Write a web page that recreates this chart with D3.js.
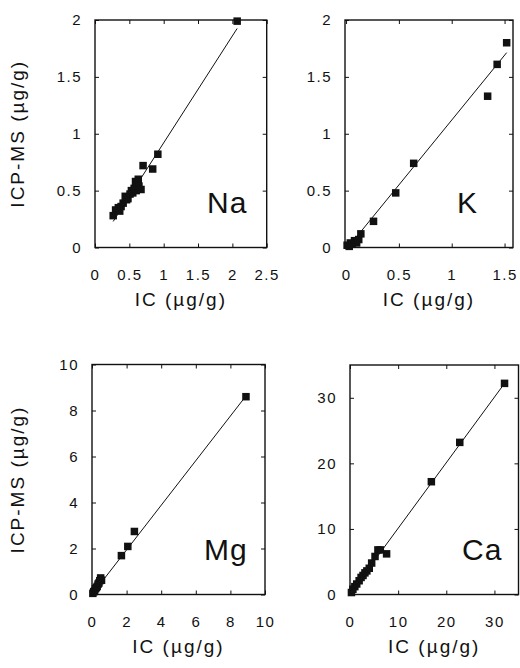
<!DOCTYPE html>
<html>
<head>
<meta charset="utf-8">
<script src="https://cdn.jsdelivr.net/npm/d3@7"></script>
<style>
  body { margin: 0; background: #fff; }
  svg { display: block; }
  .tick text { font-family: "Liberation Sans", Arial, sans-serif; font-size: 15px; letter-spacing: 1.5px; fill: #111; }
  .tick line { stroke: #111; stroke-width: 1; }
  .title { font-family: "Liberation Sans", Arial, sans-serif; font-size: 19px; letter-spacing: 2px; fill: #111; }
  .elem { font-family: "Liberation Sans", Arial, sans-serif; font-size: 30px; letter-spacing: 1px; fill: #111; }
</style>
</head>
<body>
<svg width="520" height="668"></svg>
<script>
// element names
var elements = ["Na", "K", "Mg", "Ca"];

// Na: IC vs ICP-MS (ug/g)
var naIC = [0.265, 0.30, 0.34, 0.36, 0.38, 0.41, 0.44, 0.46, 0.48, 0.51, 0.53, 0.55, 0.57, 0.59, 0.60, 0.62, 0.63, 0.64, 0.67, 0.70, 0.84, 0.915, 2.07];
var naMS = [0.28, 0.33, 0.35, 0.32, 0.36, 0.39, 0.45, 0.42, 0.43, 0.47, 0.50, 0.48, 0.52, 0.58, 0.50, 0.57, 0.60, 0.54, 0.51, 0.72, 0.69, 0.82, 1.99];

// K
var kIC = [0.01, 0.03, 0.04, 0.06, 0.08, 0.10, 0.12, 0.14, 0.26, 0.47, 0.64, 1.34, 1.43, 1.52];
var kMS = [0.02, 0.01, 0.04, 0.03, 0.06, 0.04, 0.07, 0.12, 0.23, 0.48, 0.74, 1.33, 1.61, 1.80];

// Mg
var mgIC = [0.05, 0.10, 0.15, 0.20, 0.25, 0.30, 0.35, 0.40, 0.45, 0.50, 0.55, 1.70, 2.07, 2.45, 8.90];
var mgMS = [0.05, 0.12, 0.15, 0.25, 0.30, 0.35, 0.45, 0.50, 0.60, 0.72, 0.62, 1.69, 2.09, 2.74, 8.60];

// Ca
var caIC = [0.3, 0.6, 1.0, 1.4, 1.9, 2.3, 2.7, 3.1, 3.5, 4.0, 4.5, 5.2, 5.8, 6.3, 7.6, 16.9, 22.8, 32.1];
var caMS = [0.3, 0.8, 1.2, 1.6, 2.1, 2.6, 2.9, 3.3, 3.6, 4.0, 4.8, 5.8, 6.8, 6.8, 6.2, 17.2, 23.2, 32.2];

// regression lines [slope, intercept]
var naFit = [0.94, -0.02];
var kFit = [1.14, -0.02];
var mgFit = [0.97, 0.0];
var caFit = [1.0, 0.1];

// axis domains
var naXDomain = [0, 2.5], naYDomain = [0, 2];
var kXDomain = [-0.01, 1.58], kYDomain = [0, 2];
var mgXDomain = [0, 10], mgYDomain = [0, 10];
var caXDomain = [0, 35], caYDomain = [0, 35];

// tick values
var naXTicks = [0, 0.5, 1, 1.5, 2, 2.5], naYTicks = [0, 0.5, 1, 1.5, 2];
var kXTicks = [0, 0.5, 1, 1.5], kYTicks = [0, 0.5, 1, 1.5, 2];
var mgXTicks = [0, 2, 4, 6, 8, 10], mgYTicks = [0, 2, 4, 6, 8, 10];
var caXTicks = [0, 10, 20, 30], caYTicks = [0, 10, 20, 30];

var xTitle = "IC (\u00b5g/g)";
var yTitle = "ICP-MS (\u00b5g/g)";

// frame boxes: left, top, right, bottom
var boxes = [
    [95, 20, 266.7, 247.5],
    [345, 20, 513, 247.5],
    [92, 364.5, 265, 594.5],
    [350, 365, 518.5, 594.5]
];

var panels = [
    {ic: naIC, ms: naMS, fit: naFit, xd: naXDomain, yd: naYDomain, xt: naXTicks, yt: naYTicks},
    {ic: kIC, ms: kMS, fit: kFit, xd: kXDomain, yd: kYDomain, xt: kXTicks, yt: kYTicks},
    {ic: mgIC, ms: mgMS, fit: mgFit, xd: mgXDomain, yd: mgYDomain, xt: mgXTicks, yt: mgYTicks},
    {ic: caIC, ms: caMS, fit: caFit, xd: caXDomain, yd: caYDomain, xt: caXTicks, yt: caYTicks}
];

var svg = d3.select("svg");

function makePanel(p, i) {
    var b = boxes[i];
    var w = b[2] - b[0], h = b[3] - b[1];

    var x = d3.scaleLinear().domain(p.xd).range([0, w]);
    var y = d3.scaleLinear().domain(p.yd).range([h, 0]);

    var g = svg.append("g")
        .attr("transform", "translate(" + b[0] + "," + b[1] + ")");

    // ticks point inwards on all four sides
    g.append("g")
        .attr("transform", "translate(0," + h + ")")
        .call(d3.axisBottom(x).tickValues(p.xt).tickSizeInner(-4).tickSizeOuter(0).tickPadding(22).tickFormat(d3.format("")));
    g.append("g")
        .call(d3.axisLeft(y).tickValues(p.yt).tickSizeInner(-4).tickSizeOuter(0).tickPadding(13).tickFormat(d3.format("")));
    g.append("g")
        .call(d3.axisTop(x).tickValues(p.xt).tickSizeInner(-4).tickSizeOuter(0).tickFormat(""));
    g.append("g")
        .attr("transform", "translate(" + w + ",0)")
        .call(d3.axisRight(y).tickValues(p.yt).tickSizeInner(-4).tickSizeOuter(0).tickFormat(""));

    g.selectAll(".domain").remove();

    g.append("rect")
        .attr("width", w)
        .attr("height", h)
        .attr("fill", "none")
        .attr("stroke", "#111")
        .attr("stroke-width", 1.4);

    // fit line over the data range
    var x0 = d3.min(p.ic), x1 = d3.max(p.ic);
    g.append("line")
        .attr("x1", x(x0))
        .attr("y1", y(p.fit[0] * x0 + p.fit[1]))
        .attr("x2", x(x1))
        .attr("y2", y(p.fit[0] * x1 + p.fit[1]))
        .attr("stroke", "#111")
        .attr("stroke-width", 1);

    var pts = p.ic.map(function(v, j) { return {ic: v, ms: p.ms[j]}; });
    g.selectAll(".pt")
        .data(pts)
        .enter().append("rect")
            .attr("class", "pt")
            .attr("x", function(d) { return x(d.ic) - 3.75; })
            .attr("y", function(d) { return y(d.ms) - 3.75; })
            .attr("width", 7.5)
            .attr("height", 7.5)
            .attr("fill", "#111");

    g.append("text")
        .attr("class", "elem")
        .attr("x", 112)
        .attr("y", h - 35)
        .text(elements[i]);

    g.append("text")
        .attr("class", "title")
        .attr("x", w / 2)
        .attr("y", h + 58)
        .attr("text-anchor", "middle")
        .text(xTitle);

    if (i % 2 == 0) {
        g.append("text")
            .attr("class", "title")
            .attr("transform", "translate(" + (24 - b[0]) + "," + (h / 2) + ") rotate(-90)")
            .attr("text-anchor", "middle")
            .text(yTitle);
    }
}

panels.forEach(makePanel);
</script>
</body>
</html>
